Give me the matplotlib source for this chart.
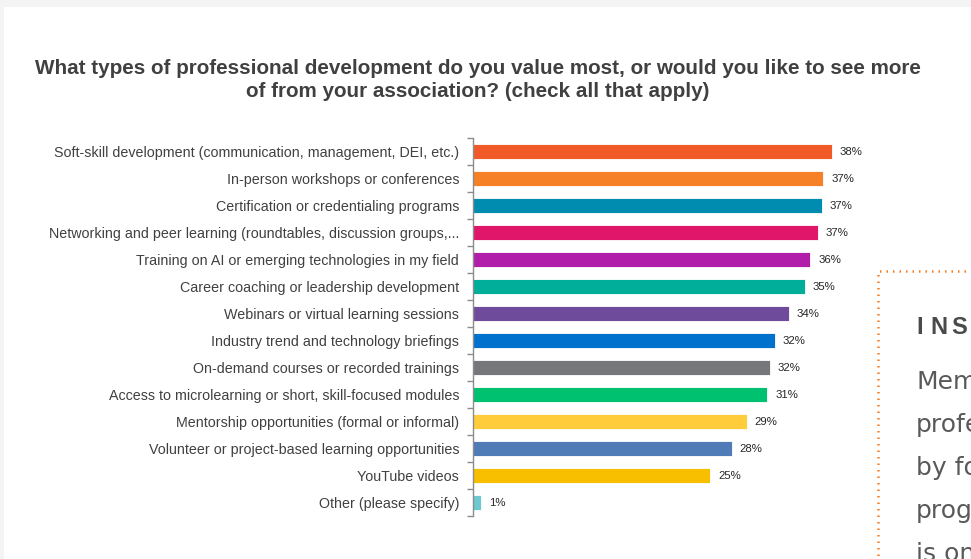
import matplotlib
matplotlib.use('Agg')
from matplotlib import pyplot as plt
from matplotlib.patches import Rectangle
import numpy as np

# survey answers, top to bottom
categories = [
    'Soft-skill development (communication, management, DEI, etc.)',
    'In-person workshops or conferences',
    'Certification or credentialing programs',
    'Networking and peer learning (roundtables, discussion groups,...',
    'Training on AI or emerging technologies in my field',
    'Career coaching or leadership development',
    'Webinars or virtual learning sessions',
    'Industry trend and technology briefings',
    'On-demand courses or recorded trainings',
    'Access to microlearning or short, skill-focused modules',
    'Mentorship opportunities (formal or informal)',
    'Volunteer or project-based learning opportunities',
    'YouTube videos',
    'Other (please specify)',
]
shares = [38.3, 37.4, 37.2, 36.8, 36.0, 35.4, 33.7, 32.2, 31.7, 31.4, 29.2, 27.6, 25.3, 0.9]
bar_colors = ['#F05A28', '#F58025', '#008BB0', '#E0166A', '#B01EAA', '#00AE9A', '#6F4C9B',
              '#0072CE', '#76777B', '#00C170', '#FFCD3C', '#4F7BB7', '#F8BF00', '#6CC9D1']

title = ('What types of professional development do you value most, or would you like to see more\n'
         'of from your association? (check all that apply)')
insight_lines = ['Members', 'professional', 'by focusing', 'programs', 'is one']

W, H = 971, 559
fig = plt.figure(figsize=(W / 100, H / 100), dpi=100)
fig.patch.set_facecolor('#f4f4f4')

# white card behind the chart
card = Rectangle((4 / W, 0), 1, 1 - 7 / H, transform=fig.transFigure,
                 facecolor='white', edgecolor='none', zorder=-5)
fig.patches.append(card)

ax = fig.add_axes([473 / W, 1 - 516 / H, 400 / W, 378 / H])
ax.set_facecolor('none')
ax.set_zorder(2)

y = np.arange(len(categories))
ax.barh(y, shares, height=0.52, color=bar_colors, edgecolor='white', linewidth=0.6, zorder=2)
for yi, v in zip(y, shares):
    ax.text(v + 0.85, yi, '%.0f%%' % v, va='center', ha='left', fontsize=8.2,
            color='#262626', family='Liberation Sans')

ax.set_xlim(0, 400 / 9.37)
ax.set_ylim(len(categories) - 0.5, -0.5)

for side in ('top', 'right', 'bottom'):
    ax.spines[side].set_visible(False)
ax.spines['left'].set_color('#8c8c8c')
ax.spines['left'].set_linewidth(1.0)
ax.set_xticks([])

# tick marks between categories, labels centred on bars
ax.set_yticks(np.arange(-0.5, len(categories), 1.0))
ax.set_yticklabels([])
ax.tick_params(axis='y', which='major', length=4, width=1.0, color='#8c8c8c')
ax.set_yticks(y, minor=True)
ax.set_yticklabels(categories, minor=True, fontsize=10.3, color='#404040', family='Liberation Sans')
ax.tick_params(axis='y', which='minor', length=0, pad=10)

fig.text(478 / W, 1 - 80 / H, title, ha='center', va='center', fontsize=14.9, fontweight='bold',
         color='#404040', family='Liberation Sans', linespacing=1.3)

# insight box on the right, running off the edge
box = Rectangle((878 / W, -0.1), 0.5, 1 - 271 / H + 0.1, transform=fig.transFigure,
                facecolor='none', edgecolor='#F58025', linewidth=1.8, linestyle=(0, (0.6, 2.0)),
                zorder=1)
fig.patches.append(box)
for ch, px in zip('INS', [916, 930, 951]):
    fig.text(px / W, 1 - 328 / H, ch, ha='left', va='center', fontsize=17,
             fontweight='bold', color='#4a4a4a', family='Liberation Sans')
for i, s in enumerate(insight_lines):
    fig.text(916 / W, 1 - (382 + i * 43) / H, s, ha='left', va='center', fontsize=18,
             color='#595959', family='DejaVu Sans')

fig.savefig('out.png', dpi=100)
